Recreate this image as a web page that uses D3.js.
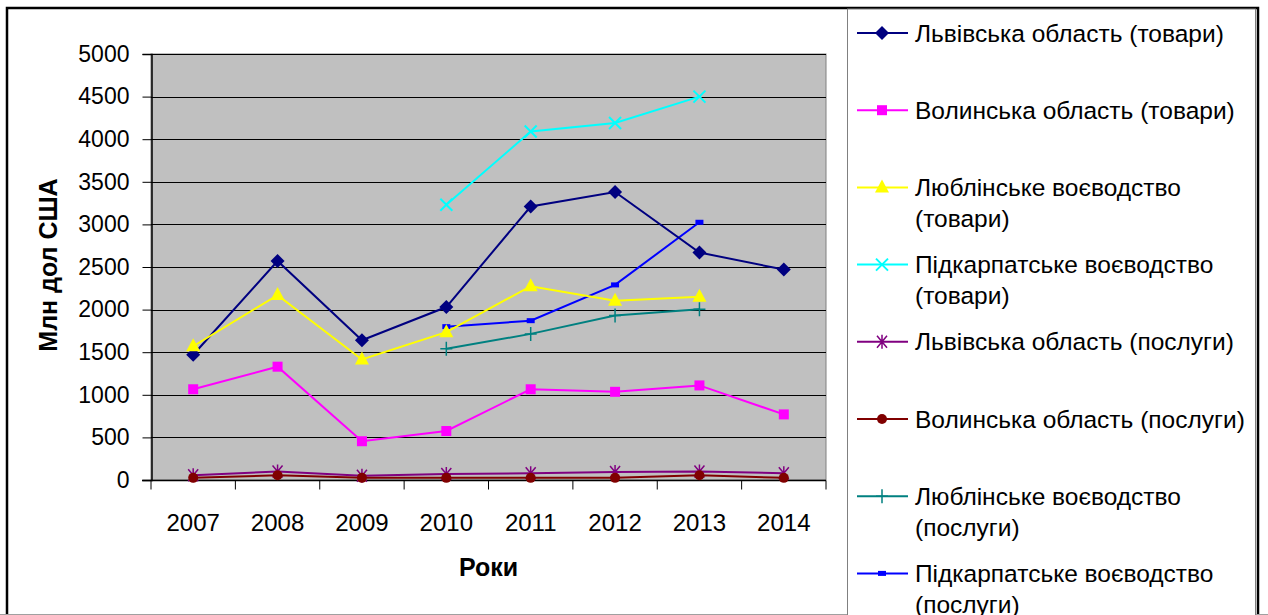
<!DOCTYPE html>
<html>
<head>
<meta charset="utf-8">
<script src="https://cdn.jsdelivr.net/npm/d3@7"></script>
<style>
  body { margin: 0; background: #fff; }
  svg { display: block; font-family: "Liberation Sans", Arial, sans-serif; }
</style>
</head>
<body>
<div id="chart"></div>
<script>
// years on the x axis
const years = ["2007", "2008", "2009", "2010", "2011", "2012", "2013", "2014"];
const yTicks = [0, 500, 1000, 1500, 2000, 2500, 3000, 3500, 4000, 4500, 5000];

// series values, mln USD (null = no data)
const lvivGoods     = [1470, 2570, 1640, 2030, 3210, 3380, 2670, 2470];
const volynGoods    = [1065, 1330, 455, 575, 1065, 1035, 1110, 770];
const lublinGoods   = [1570, 2170, 1415, 1735, 2275, 2105, 2150, null];
const pidkGoods     = [null, null, null, 3230, 4090, 4190, 4500, null];
const lvivServ      = [55, 100, 50, 70, 80, 95, 100, 80];
const volynServ     = [25, 55, 25, 25, 25, 25, 55, 25];
const lublinServ    = [null, null, null, 1540, 1715, 1930, 2005, null];
const pidkServ      = [null, null, null, 1800, 1870, 2290, 3025, null];

const seriesNames = [
  "Львівська область (товари)",
  "Волинська область (товари)",
  "Люблінське воєводство (товари)",
  "Підкарпатське воєводство (товари)",
  "Львівська область (послуги)",
  "Волинська область (послуги)",
  "Люблінське воєводство (послуги)",
  "Підкарпатське воєводство (послуги)"
];
const seriesValues = [lvivGoods, volynGoods, lublinGoods, pidkGoods, lvivServ, volynServ, lublinServ, pidkServ];
const seriesColors = ["#000080", "#FF00FF", "#FFFF00", "#00FFFF", "#800080", "#800000", "#008080", "#0000FF"];
const seriesMarkers = ["diamond", "square", "triangle", "x", "asterisk", "circle", "plus", "dash"];

const width = 1268, height = 615;
const plot = { left: 151, right: 826, top: 54, bottom: 480 };

const svg = d3.select("#chart").append("svg")
  .attr("width", width)
  .attr("height", height);

// outer frame
svg.append("rect")
  .attr("x", 7).attr("y", 8)
  .attr("width", 1251).attr("height", 620)
  .attr("fill", "none")
  .attr("stroke", "#000")
  .attr("stroke-width", 2.5);
svg.append("line")
  .attr("x1", 0).attr("x2", width)
  .attr("y1", 614.5).attr("y2", 614.5)
  .attr("stroke", "#a0a0a0");

const x = d3.scaleBand().domain(years).range([plot.left, plot.right]).padding(0);
const y = d3.scaleLinear().domain([0, 5000]).range([plot.bottom, plot.top]);

// plot background
svg.append("rect")
  .attr("x", plot.left).attr("y", plot.top)
  .attr("width", plot.right - plot.left).attr("height", plot.bottom - plot.top)
  .attr("fill", "#C0C0C0")
  .attr("stroke", "#808080");

// gridlines
svg.append("g")
  .selectAll("line")
  .data(yTicks.filter(d => d > 0))
  .join("line")
  .attr("x1", plot.left).attr("x2", plot.right)
  .attr("y1", d => Math.round(y(d)) + 0.5).attr("y2", d => Math.round(y(d)) + 0.5)
  .attr("stroke", "#000")
  .attr("stroke-width", 1);

// y axis
const yAxis = svg.append("g")
  .attr("transform", `translate(${plot.left + 0.5},0)`)
  .call(d3.axisLeft(y).tickValues(yTicks).tickSize(9).tickPadding(13).tickFormat(d3.format("d")));
yAxis.select(".domain").attr("stroke", "#000").attr("stroke-width", 1.5);
yAxis.selectAll("text").attr("font-size", 23).attr("fill", "#000")
  .attr("font-family", "Liberation Sans, Arial, sans-serif");

// x axis: ticks on category boundaries
const xAxisG = svg.append("g").attr("transform", `translate(0,${plot.bottom + 0.5})`);
xAxisG.append("line")
  .attr("x1", plot.left - 9).attr("x2", plot.right)
  .attr("stroke", "#000").attr("stroke-width", 1.5);
xAxisG.append("g")
  .selectAll("line")
  .data(years.concat(["end"]))
  .join("line")
  .attr("x1", (d, i) => i < years.length ? x(d) : x(years[years.length - 1]) + x.bandwidth())
  .attr("x2", (d, i) => i < years.length ? x(d) : x(years[years.length - 1]) + x.bandwidth())
  .attr("y1", 0).attr("y2", 9)
  .attr("stroke", "#000");
xAxisG.append("g")
  .selectAll("text")
  .data(years)
  .join("text")
  .attr("x", d => x(d) + x.bandwidth() / 2)
  .attr("y", 50)
  .attr("text-anchor", "middle")
  .attr("font-size", 24)
  .text(d => d);

// axis titles
svg.append("text")
  .attr("transform", "translate(57,265) rotate(-90)")
  .attr("text-anchor", "middle")
  .attr("font-size", 25)
  .attr("font-weight", "bold")
  .text("Млн дол США");
svg.append("text")
  .attr("x", (plot.left + plot.right) / 2)
  .attr("y", 576)
  .attr("text-anchor", "middle")
  .attr("font-size", 25)
  .attr("font-weight", "bold")
  .text("Роки");

// marker drawing
function drawMarker(g, type, color) {
  if (type === "diamond") {
    g.append("path").attr("d", "M0,-7L7,0L0,7L-7,0Z").attr("fill", color);
  } else if (type === "square") {
    g.append("rect").attr("x", -5).attr("y", -5).attr("width", 10).attr("height", 10).attr("fill", color);
  } else if (type === "triangle") {
    g.append("path").attr("d", "M0,-8L7,5L-7,5Z").attr("fill", color);
  } else if (type === "circle") {
    g.append("circle").attr("r", 5).attr("fill", color);
  } else if (type === "x") {
    g.append("path").attr("d", "M-6,-6L6,6M-6,6L6,-6").attr("stroke", color).attr("stroke-width", 2).attr("fill", "none");
  } else if (type === "plus") {
    g.append("path").attr("d", "M-6,0L6,0M0,-7L0,7").attr("stroke", color).attr("stroke-width", 1.5).attr("fill", "none");
  } else if (type === "asterisk") {
    g.append("path").attr("d", "M-5,-6L5,6M-5,6L5,-6M0,-7L0,7").attr("stroke", color).attr("stroke-width", 1.5).attr("fill", "none");
  } else if (type === "dash") {
    g.append("rect").attr("x", -4).attr("y", -2.5).attr("width", 8).attr("height", 5).attr("fill", color);
  }
}

const line = d3.line()
  .defined(d => d.v !== null)
  .x(d => x(d.year) + x.bandwidth() / 2)
  .y(d => y(d.v));

// draw services first so goods lines sit on top
const drawOrder = [4, 5, 6, 7, 0, 1, 2, 3];
drawOrder.forEach(si => {
  const pts = years.map((yr, i) => ({ year: yr, v: seriesValues[si][i] }));
  svg.append("path")
    .datum(pts)
    .attr("d", line)
    .attr("fill", "none")
    .attr("stroke", seriesColors[si])
    .attr("stroke-width", 2);
  pts.filter(d => d.v !== null).forEach(d => {
    const g = svg.append("g")
      .attr("transform", `translate(${x(d.year) + x.bandwidth() / 2},${y(d.v)})`);
    drawMarker(g, seriesMarkers[si], seriesColors[si]);
  });
});

// legend box
svg.append("rect")
  .attr("x", 847.5).attr("y", 9)
  .attr("width", 408).attr("height", 640)
  .attr("fill", "#fff")
  .attr("stroke", "#808080");

const legendMaxWidth = 338;
seriesNames.forEach((name, i) => {
  const ly = 33 + i * 77.2;
  const g = svg.append("g").attr("transform", `translate(0,${ly})`);
  g.append("line")
    .attr("x1", 857).attr("x2", 908)
    .attr("stroke", seriesColors[i]).attr("stroke-width", 2);
  const mg = g.append("g").attr("transform", "translate(882,0)");
  drawMarker(mg, seriesMarkers[i], seriesColors[i]);

  // word wrap
  const t = g.append("text")
    .attr("x", 915).attr("y", 0)
    .attr("font-size", 24.5);
  const words = name.split(" ");
  let lineWords = [];
  let tspan = t.append("tspan").attr("x", 915).attr("dy", "0.35em");
  words.forEach(w => {
    lineWords.push(w);
    tspan.text(lineWords.join(" "));
    if (tspan.node().getComputedTextLength() > legendMaxWidth && lineWords.length > 1) {
      lineWords.pop();
      tspan.text(lineWords.join(" "));
      lineWords = [w];
      tspan = t.append("tspan").attr("x", 915).attr("dy", 31).text(w);
    }
  });
});
</script>
</body>
</html>
